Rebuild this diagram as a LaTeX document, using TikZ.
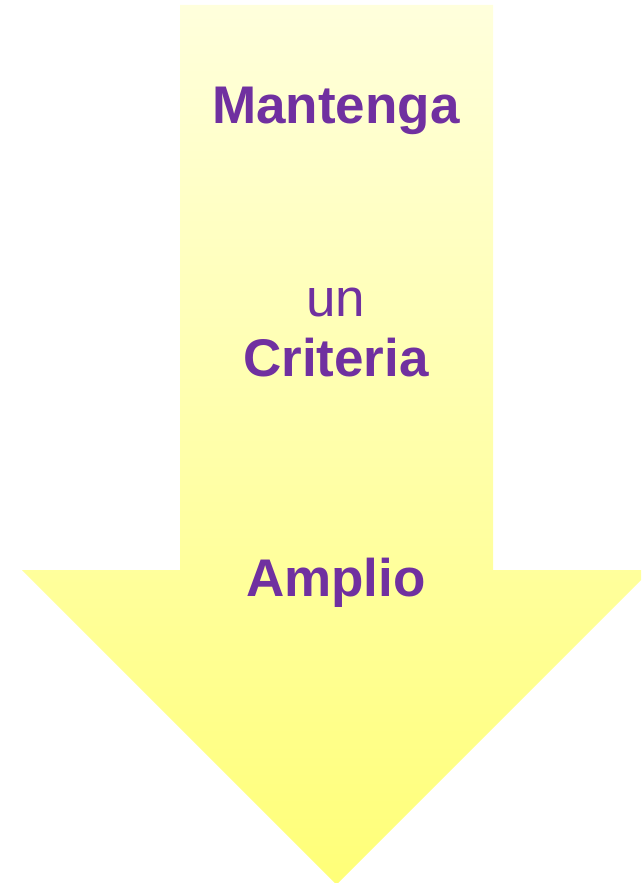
\documentclass[tikz,border=0pt]{standalone}
\usepackage{fontspec}
\setmainfont{Liberation Sans}
\definecolor{toptone}{HTML}{FFFFDC}
\definecolor{bottone}{HTML}{FFFF78}
\definecolor{txtpurple}{HTML}{7030A0}
\tikzset{
  label text/.style={anchor=base, text=txtpurple, font=\fontsize{53}{63}\selectfont\bfseries, inner sep=0pt},
  plain text/.style={anchor=base, text=txtpurple, font=\fontsize{53}{63}\selectfont, inner sep=0pt}
}
\begin{document}
\begin{tikzpicture}[x=1pt,y=-1pt]
\useasboundingbox (0,0) rectangle (641,883);
\path[clip] (0,0) rectangle (641,883);
\shade[top color=toptone, bottom color=bottone]
  (180,5) -- (493,5) -- (493,570) -- (651,570) -- (336.5,884.5) -- (22,570) -- (180,570) -- cycle;
\node[label text] (m) at (336,123) {Mantenga};
\node[plain text] (u) at (336,316) {un};
\node[label text] (c) at (336,376) {Criteria};
\node[label text] (a) at (336,596) {Amplio};
\end{tikzpicture}
\end{document}
